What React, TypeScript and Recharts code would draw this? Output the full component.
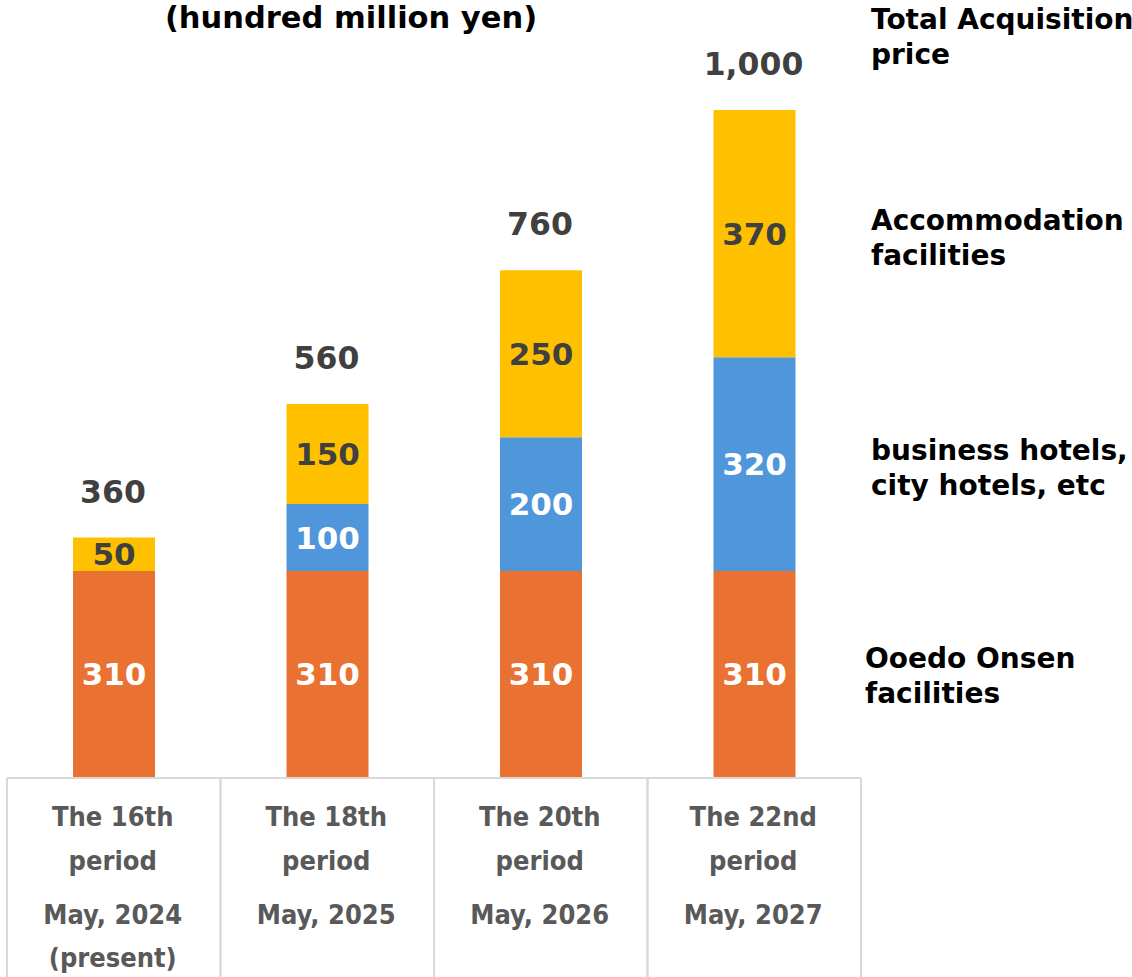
import { Bar, BarChart, LabelList, XAxis, YAxis } from "recharts";

const categories = [
  ["The 16th", "period", "May, 2024", "(present)"],
  ["The 18th", "period", "May, 2025"],
  ["The 20th", "period", "May, 2026"],
  ["The 22nd", "period", "May, 2027"],
];
const onsen = [310, 310, 310, 310];
const business = [0, 100, 200, 320];
const accommodation = [50, 150, 250, 370];
const totals = [360, 560, 760, 1000];

const legendLines = [
  { top: 2, left: 871, lines: ["Total Acquisition", "price"] },
  { top: 203, left: 871, lines: ["Accommodation", "facilities"] },
  { top: 433, left: 871, lines: ["business hotels,", "city hotels, etc"] },
  { top: 641, left: 865, lines: ["Ooedo Onsen", "facilities"] },
];

const data = categories.map((lines, i) => ({
  name: lines.join(" "),
  lines,
  onsen: onsen[i],
  business: business[i],
  accommodation: accommodation[i],
  total: totals[i],
}));

const W = 1132;
const H = 977;
const AXIS_H = 199;
const BASE_Y = H - AXIS_H;
const CELL_W = (861 - 7) / categories.length;
const FONT = "'DejaVu Sans', Verdana, sans-serif";
const AXIS_FONT = "'DejaVu Sans Condensed', 'DejaVu Sans', sans-serif";
const LINE_Y = [826, 870, 924, 967];

function TableTick(props: any) {
  const { x, index } = props;
  const lines = categories[index] || [];
  return (
    <g>
      <line x1={x - CELL_W / 2} x2={x - CELL_W / 2} y1={BASE_Y} y2={H} stroke="#d9d9d9" strokeWidth={2} />
      <line x1={x + CELL_W / 2} x2={x + CELL_W / 2} y1={BASE_Y} y2={H} stroke="#d9d9d9" strokeWidth={2} />
      {lines.map((t, i) => (
        <text
          key={t}
          x={x - 1}
          y={LINE_Y[i]}
          textAnchor="middle"
          fill="#595959"
          fontFamily={AXIS_FONT}
          fontWeight="bold"
          fontSize={27}
        >
          {t}
        </text>
      ))}
    </g>
  );
}

function TotalLabel(props: any) {
  const { x, y, width, index } = props;
  return (
    <text
      x={x + width / 2 - 1}
      y={y - 46}
      dy={11}
      textAnchor="middle"
      fill="#404040"
      fontFamily={FONT}
      fontWeight="bold"
      fontSize={31.5}
    >
      {totals[index].toLocaleString("en-US")}
    </text>
  );
}

const labelStyle = { fontFamily: FONT, fontWeight: "bold", fontSize: 31 } as const;
const hideZero = (v: any) => (v ? v : "");

export default function App() {
  return (
    <div style={{ position: "absolute", left: 0, top: 0, width: W, height: H, fontFamily: FONT, background: "#fff" }}>
      <BarChart
        width={W}
        height={H}
        data={data}
        margin={{ top: 110, right: W - 861, bottom: 0, left: 7 }}
        barSize={82}
      >
        <XAxis
          dataKey="name"
          height={AXIS_H}
          axisLine={{ stroke: "#d9d9d9", strokeWidth: 2 }}
          tickLine={false}
          interval={0}
          tick={<TableTick />}
        />
        <YAxis hide domain={[0, 1000]} />
        <Bar dataKey="onsen" stackId="a" fill="#E97132" isAnimationActive={false}>
          <LabelList dataKey="onsen" position="center" fill="#ffffff" style={labelStyle} formatter={hideZero} />
        </Bar>
        <Bar dataKey="business" stackId="a" fill="#5096DA" isAnimationActive={false}>
          <LabelList dataKey="business" position="center" fill="#ffffff" style={labelStyle} formatter={hideZero} />
        </Bar>
        <Bar dataKey="accommodation" stackId="a" fill="#FFC000" isAnimationActive={false}>
          <LabelList dataKey="accommodation" position="center" fill="#404040" style={labelStyle} formatter={hideZero} />
          <LabelList dataKey="total" content={<TotalLabel />} />
        </Bar>
      </BarChart>
      <div
        style={{
          position: "absolute",
          left: 0,
          top: 0,
          width: 702,
          textAlign: "center",
          fontSize: 30.5,
          fontWeight: "bold",
          lineHeight: "36px",
          color: "#000",
        }}
      >
        (hundred million yen)
      </div>
      {legendLines.map((l) => (
        <div
          key={l.lines[0]}
          style={{
            position: "absolute",
            left: l.left,
            top: l.top,
            fontSize: 28,
            fontWeight: "bold",
            lineHeight: "35px",
            color: "#000",
            whiteSpace: "nowrap",
          }}
        >
          {l.lines.map((t) => (
            <div key={t}>{t}</div>
          ))}
        </div>
      ))}
    </div>
  );
}
